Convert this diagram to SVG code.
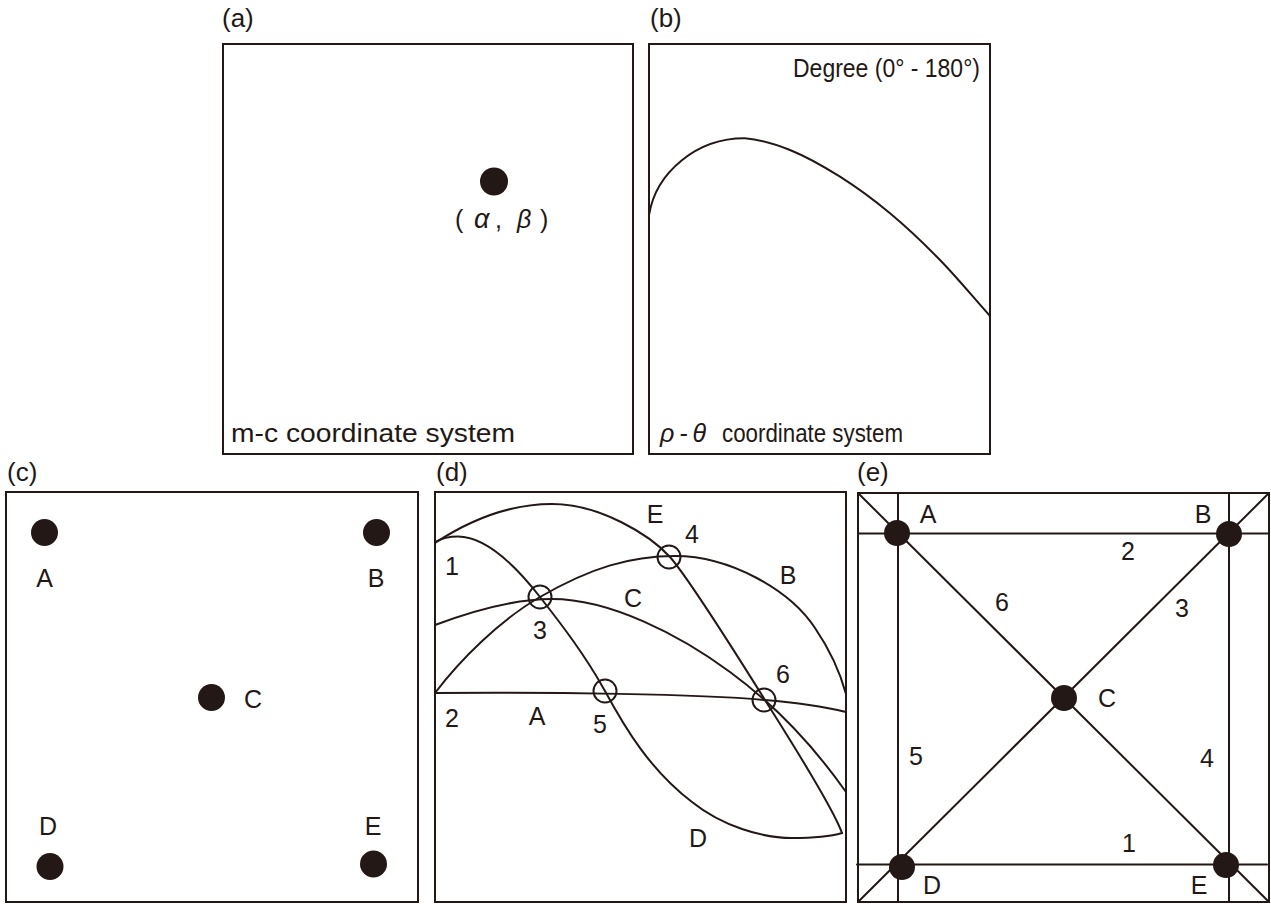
<svg xmlns="http://www.w3.org/2000/svg" width="1271" height="904" viewBox="0 0 1271 904">
<style>
.frame{fill:none;stroke:#231815;stroke-width:2}
.ln{fill:none;stroke:#231815;stroke-width:2;stroke-linecap:round}
.ring{fill:none;stroke:#231815;stroke-width:2}
.dot{fill:#231815}
text{font-family:"Liberation Sans","Noto Sans",Arial,sans-serif;fill:#231815}
.pl{font-size:26px}
.lb{font-size:25px;text-anchor:middle}
.it{font-style:italic}
</style>
<rect width="1271" height="904" fill="#fff"/>

<g id="panel-a">
<text class="pl" x="222" y="27">(a)</text>
<rect class="frame" x="223" y="44" width="410" height="410"/>
<g id="node-ab"><circle class="dot" cx="494" cy="181.5" r="14"/>
<text style="font-size:25px" y="228"><tspan x="455">(</tspan><tspan class="it" style="font-size:27px" x="474">α</tspan><tspan x="495">,</tspan><tspan class="it" x="517">β</tspan><tspan x="540">)</tspan></text></g>
<text style="font-size:25px" x="231" y="442" textLength="284" lengthAdjust="spacingAndGlyphs">m-c coordinate system</text>
</g>

<g id="panel-b">
<text class="pl" x="650" y="27">(b)</text>
<rect class="frame" x="649" y="44" width="341" height="410"/>
<text style="font-size:26px" x="793" y="77" textLength="187" lengthAdjust="spacingAndGlyphs">Degree (0° - 180°)</text>
<path class="ln" d="M649,215 C656,172 697,138 745,138.3 C758.9,139.4 774.2,143.6 790,150 C805.8,156.4 823.3,166.2 840,176.7 C856.7,187.3 873.3,199.4 890,213.3 C906.7,227.2 923.3,242.9 940,260 C956.7,277.1 973.3,297.3 990,316"/>
<text class="it" style="font-size:25px" x="660" y="442" textLength="46" lengthAdjust="spacing">ρ - θ</text>
<text style="font-size:25px" x="722" y="442" textLength="181" lengthAdjust="spacingAndGlyphs">coordinate system</text>
</g>

<g id="panel-c">
<text class="pl" x="7" y="481">(c)</text>
<rect class="frame" x="6" y="492" width="412" height="410"/>
<g id="c-A"><circle class="dot" cx="44.5" cy="532.5" r="13.5"/><text class="lb" x="44.5" y="587">A</text></g>
<g id="c-B"><circle class="dot" cx="376.5" cy="532.5" r="13.5"/><text class="lb" x="376" y="587">B</text></g>
<g id="c-C"><circle class="dot" cx="211.5" cy="697.5" r="13.5"/><text class="lb" x="253" y="708">C</text></g>
<g id="c-D"><circle class="dot" cx="50" cy="866.5" r="13.5"/><text class="lb" x="48" y="835">D</text></g>
<g id="c-E"><circle class="dot" cx="373.5" cy="864" r="13.5"/><text class="lb" x="373" y="835">E</text></g>
</g>

<g id="panel-d">
<text class="pl" x="436" y="481">(d)</text>
<rect class="frame" x="435" y="492" width="411" height="410"/>
<g id="curves-d">
<path id="curve-A" class="ln" d="M435,693 C550,692 700,694 765,700 C800,703 825,707 846,712"/>
<path id="curve-B" class="ln" d="M435,693 C460,660 500,620 540,597 C590,568 630,556 675,556 C730,556 790,590 815,628 C830,650 840,672 846,694"/>
<path id="curve-C" class="ln" d="M435,625 C475,610 515,599 552,599 C610,599 680,635 730,672 C775,705 815,748 846,792"/>
<path id="curve-D" class="ln" d="M435,542 C442,538 450,536.5 458,536.5 C485,536.5 515,565 540,597 C562,625 585,655 605,691 C625,728 650,770 692,802 C722,826 762,838 792,838 C815,838 832,836 842,833"/>
<path id="curve-E" class="ln" d="M435,543 C470,520 510,504 552,504 C600,504 650,535 670,557 C690,580 745,668 765,700 C785,732 832,805 842,833"/>
</g>
<circle class="ring" cx="540" cy="597" r="11.5"/>
<circle class="ring" cx="669" cy="557" r="11.5"/>
<circle class="ring" cx="605" cy="691" r="11.5"/>
<circle class="ring" cx="764" cy="700" r="11.5"/>
<text class="lb" x="655" y="523">E</text>
<text class="lb" x="692" y="543">4</text>
<text class="lb" x="452" y="575">1</text>
<text class="lb" x="788" y="584">B</text>
<text class="lb" x="633" y="607">C</text>
<text class="lb" x="540" y="639">3</text>
<text class="lb" x="783" y="683">6</text>
<text class="lb" x="452" y="727">2</text>
<text class="lb" x="537" y="725">A</text>
<text class="lb" x="600" y="733">5</text>
<text class="lb" x="698" y="847">D</text>
</g>

<g id="panel-e">
<text class="pl" x="857" y="481">(e)</text>
<rect class="frame" x="858" y="493" width="411" height="409"/>
<g id="lines-e">
<line class="ln" x1="898" y1="493" x2="898" y2="902"/>
<line class="ln" x1="1229" y1="493" x2="1229" y2="902"/>
<line class="ln" x1="858" y1="533.5" x2="1269" y2="533.5"/>
<line class="ln" x1="857" y1="864.5" x2="1267" y2="864.5"/>
<line class="ln" x1="858" y1="493" x2="1269" y2="902"/>
<line class="ln" x1="858" y1="902" x2="1269" y2="493"/>
</g>
<g id="e-A"><circle class="dot" cx="897" cy="533" r="13"/><text class="lb" x="928" y="523">A</text></g>
<g id="e-B"><circle class="dot" cx="1229" cy="534" r="13"/><text class="lb" x="1203" y="523">B</text></g>
<g id="e-C"><circle class="dot" cx="1064" cy="698" r="13"/><text class="lb" x="1107" y="707">C</text></g>
<g id="e-D"><circle class="dot" cx="902" cy="867" r="13"/><text class="lb" x="932" y="894">D</text></g>
<g id="e-E"><circle class="dot" cx="1226" cy="865" r="13"/><text class="lb" x="1199" y="894">E</text></g>
<text class="lb" x="1128" y="560">2</text>
<text class="lb" x="1002" y="611">6</text>
<text class="lb" x="1182" y="617">3</text>
<text class="lb" x="916" y="765">5</text>
<text class="lb" x="1207" y="767">4</text>
<text class="lb" x="1129" y="852">1</text>
</g>
</svg>
